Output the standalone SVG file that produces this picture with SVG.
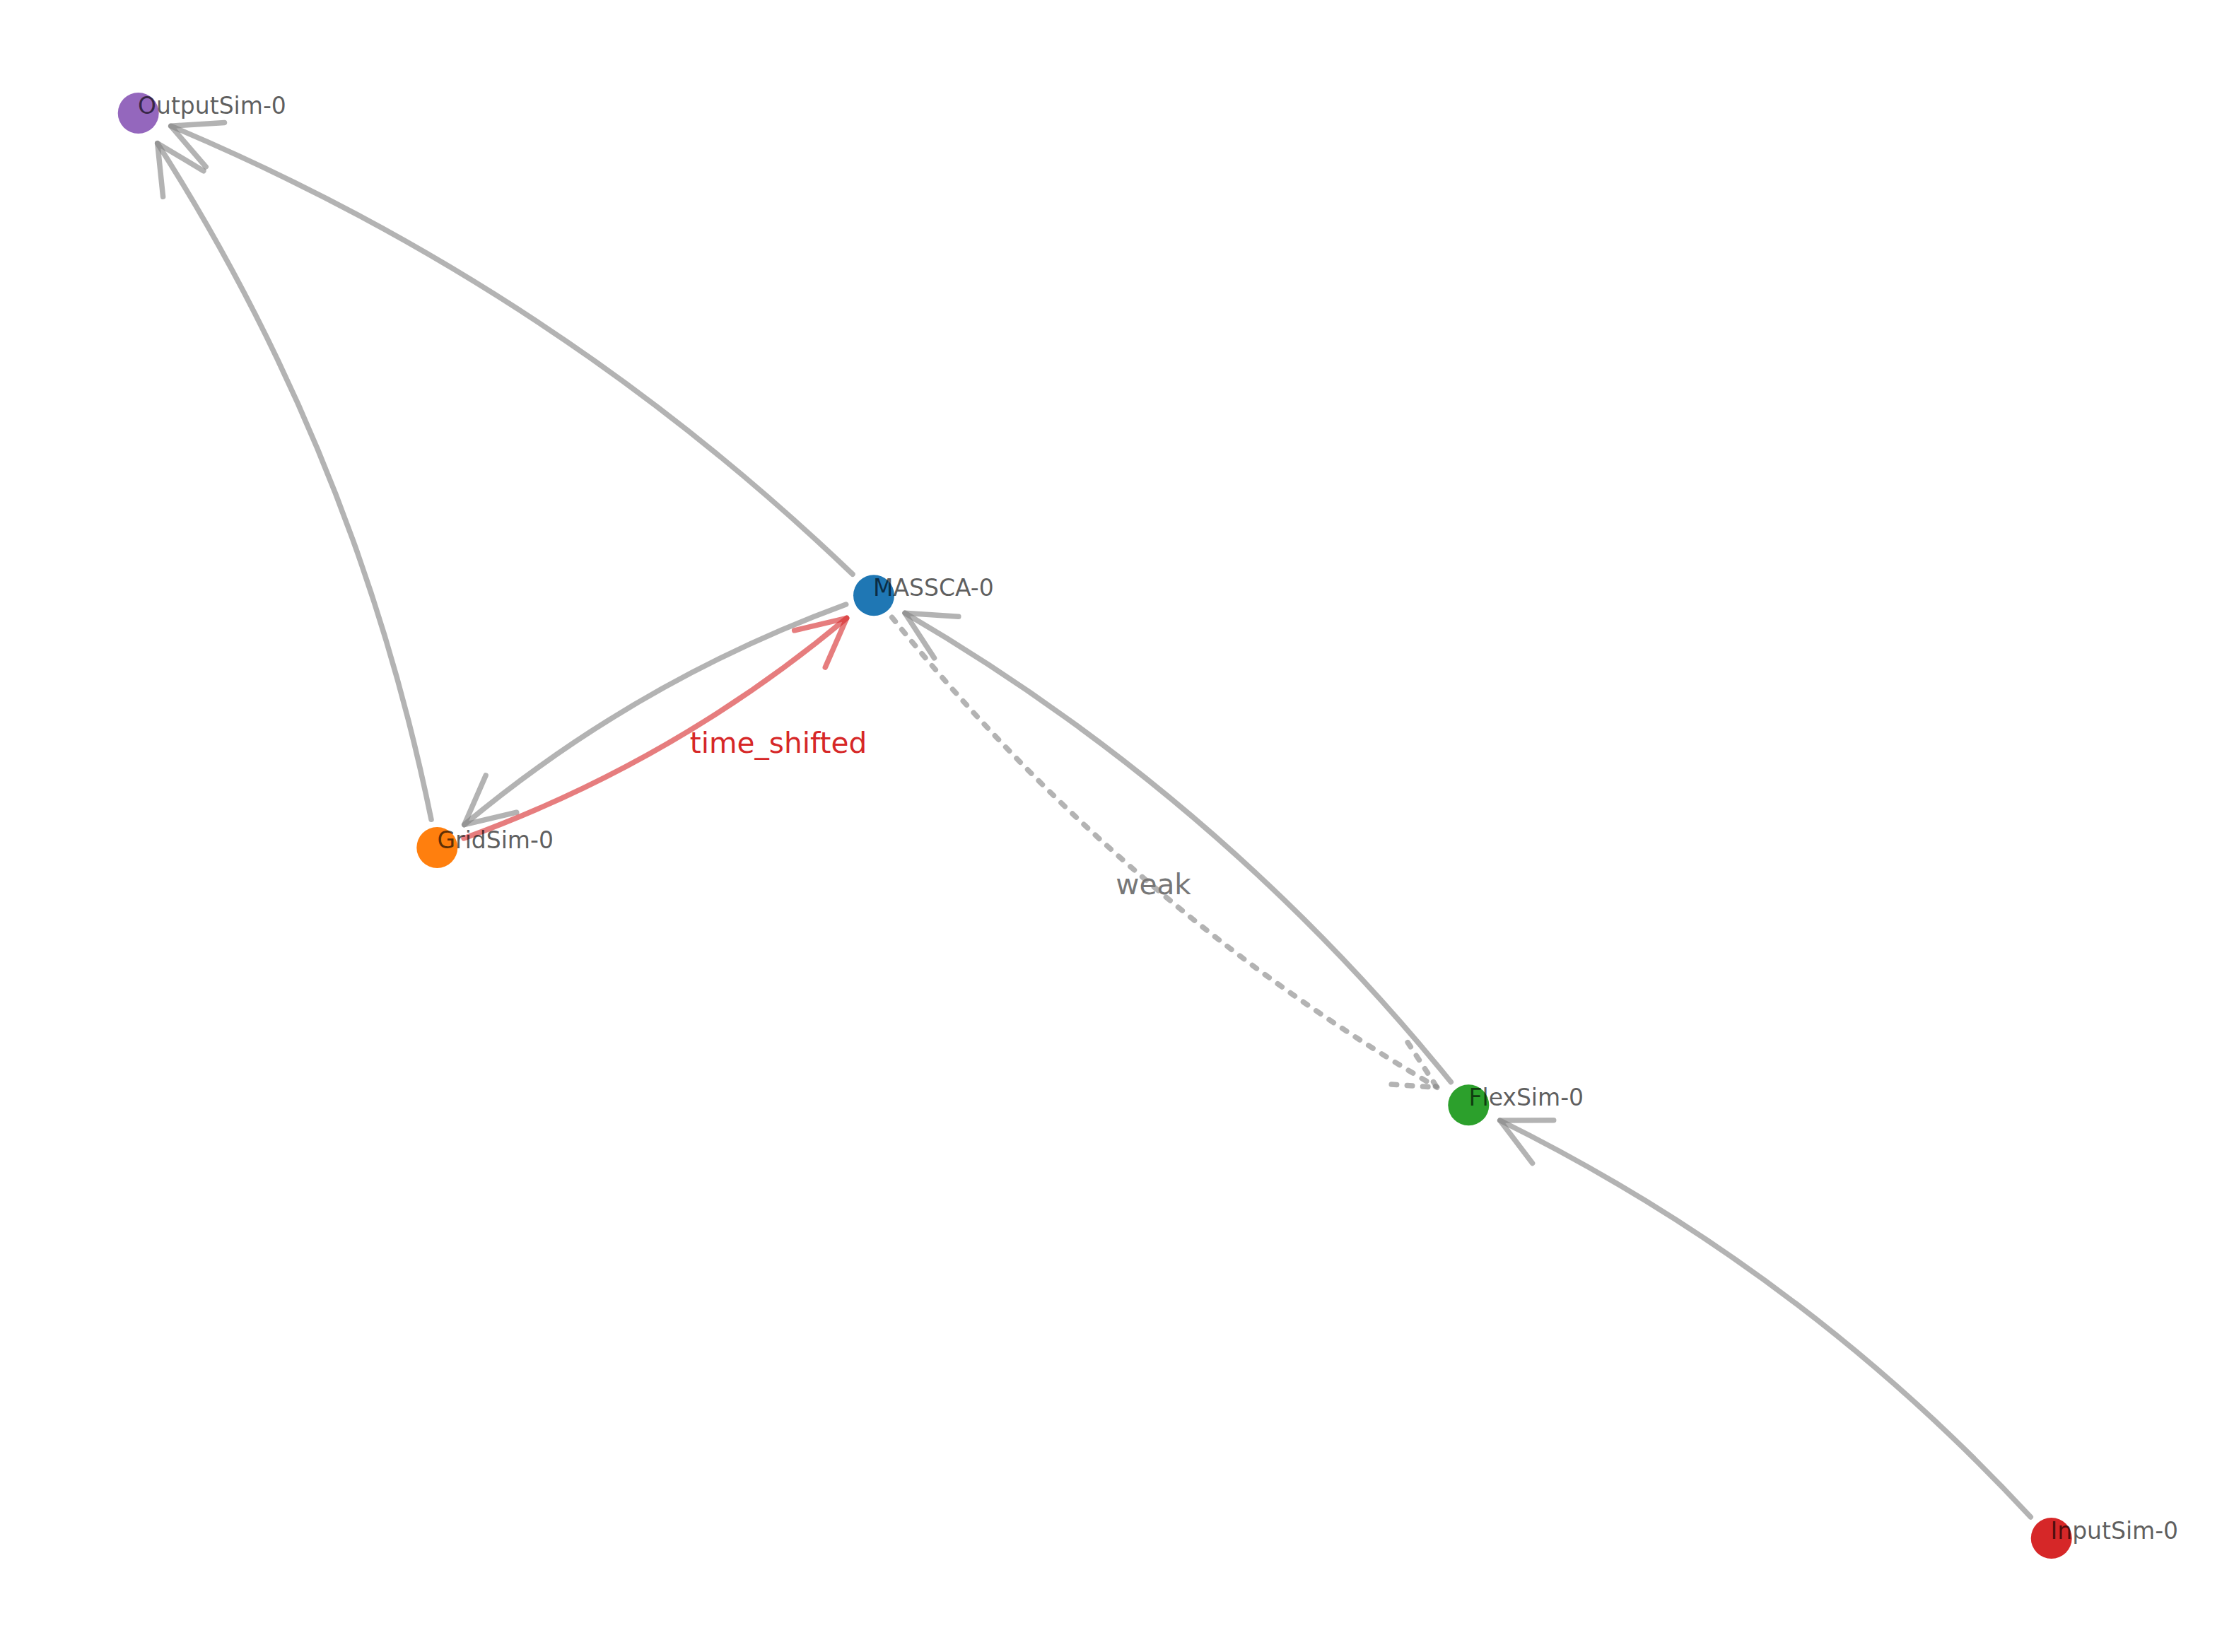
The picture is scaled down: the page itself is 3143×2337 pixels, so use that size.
<svg xmlns="http://www.w3.org/2000/svg" width="3143" height="2337" viewBox="0 0 3143 2337">
<style>
.e{fill:none;stroke:#808080;stroke-opacity:0.6;stroke-width:7.5;stroke-linecap:round;stroke-linejoin:round}
.r{stroke:#d62728}
.d{stroke-dasharray:7.5 14.7}
.lbl{font-family:"DejaVu Sans","Liberation Sans",sans-serif;font-size:33px;fill:#000;fill-opacity:0.64}
.el{font-family:"DejaVu Sans","Liberation Sans",sans-serif;font-size:40.6px;text-anchor:middle}
</style>
<rect width="3143" height="2337" fill="#ffffff"/>
<g id="edges">
<path class="e" d="M1206,812.3 Q783.2,406.3 241.7,178.3"/>
<path class="e" d="M291.2,236 L241.7,178.3 L317.5,173.4"/>
<path class="e" d="M610,1159.3 Q504.8,644.9 222.7,202.7"/>
<path class="e" d="M230.6,278.3 L222.7,202.7 L287.9,241.7"/>
<path class="e" d="M1196.7,855 Q899.5,964 656.7,1166.7"/>
<path class="e" d="M730.7,1149.2 L656.7,1166.7 L687.1,1097"/>
<path class="e r" d="M656,1186 Q954.4,1077.7 1197.7,874.3"/>
<path class="e r" d="M1123.7,891.8 L1197.7,874.3 L1167.3,944"/>
<path class="e" d="M2052.3,1530.7 Q1726.7,1128.3 1280,867.3"/>
<path class="e" d="M1321.5,930.9 L1280,867.3 L1355.8,872.2"/>
<path class="e d" d="M1261.7,873.3 Q1586.2,1277 2032.7,1538.3"/>
<path class="e d" d="M1991.2,1474.6 L2032.7,1538.3 L1956.9,1533.3"/>
<path class="e" d="M2872.3,2146 Q2548.6,1796.2 2121.7,1585"/>
<path class="e" d="M2167.6,1645.6 L2121.7,1585 L2197.7,1584.7"/>
<text class="el" x="1101" y="1065" fill="#d62728">time_shifted</text>
<text class="el" x="1631.6" y="1265" fill="#777777">weak</text>
</g>
<g id="node-MASSCA-0">
<circle cx="1236" cy="842.3" r="29" fill="#1f77b4"/>
<text class="lbl" x="1235" y="843.3">MASSCA-0</text>
</g>
<g id="node-GridSim-0">
<circle cx="618.3" cy="1199" r="29" fill="#ff7f0e"/>
<text class="lbl" x="618.5" y="1200">GridSim-0</text>
</g>
<g id="node-FlexSim-0">
<circle cx="2077.3" cy="1563.3" r="29" fill="#2ca02c"/>
<text class="lbl" x="2077.5" y="1564.3">FlexSim-0</text>
</g>
<g id="node-InputSim-0">
<circle cx="2901.7" cy="2176" r="29" fill="#d62728"/>
<text class="lbl" x="2900.5" y="2177">InputSim-0</text>
</g>
<g id="node-OutputSim-0">
<circle cx="195.7" cy="160" r="29" fill="#9467bd"/>
<text class="lbl" x="195" y="161">OutputSim-0</text>
</g>
</svg>
